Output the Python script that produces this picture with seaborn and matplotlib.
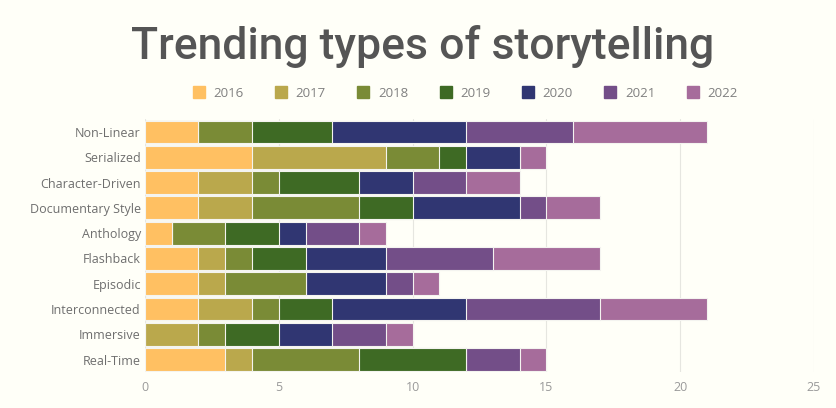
import matplotlib
matplotlib.use("Agg")
import matplotlib.pyplot as plt
import seaborn as sns
import numpy as np
import pandas as pd
from matplotlib.lines import Line2D

categories = ["Non-Linear", "Serialized", "Character-Driven", "Documentary Style",
              "Anthology", "Flashback", "Episodic", "Interconnected", "Immersive", "Real-Time"]
years = ["2016", "2017", "2018", "2019", "2020", "2021", "2022"]
v2016 = [2, 4, 2, 2, 1, 2, 2, 2, 0, 3]
v2017 = [0, 5, 2, 2, 0, 1, 1, 2, 2, 1]
v2018 = [2, 2, 1, 4, 2, 1, 3, 1, 1, 4]
v2019 = [3, 1, 3, 2, 2, 2, 0, 2, 2, 4]
v2020 = [5, 2, 2, 4, 1, 3, 3, 5, 2, 0]
v2021 = [4, 0, 2, 1, 2, 4, 1, 5, 2, 2]
v2022 = [5, 1, 2, 2, 1, 4, 1, 4, 1, 1]
colors = ["#FFC062", "#BAA84C", "#7A8B36", "#3E6A24", "#303672", "#734E88", "#A66C9B"]
xticks = [0, 5, 10, 15, 20, 25]

series = [v2016, v2017, v2018, v2019, v2020, v2021, v2022]
cum = np.cumsum(np.array(series), axis=0)

bg = "#FFFFF8"
sns.set_theme(style="white")
plt.rcParams["font.family"] = ["Open Sans", "DejaVu Sans"]

fig = plt.figure(figsize=(8.36, 4.08), dpi=100, facecolor=bg)
ax = fig.add_axes([0.1734, 0.0875, 0.8003, 0.620])
ax.set_facecolor(bg)

for i in range(len(years) - 1, -1, -1):
    df = pd.DataFrame({"category": categories, "value": cum[i]})
    sns.barplot(data=df, x="value", y="category", orient="h", color=colors[i],
                saturation=1, width=0.9, edgecolor="#F4F4F0", linewidth=0.8, ax=ax, zorder=3)

ax.set_xlim(0, 25)
ax.set_ylim(9.5, -0.5)
ax.set_xticks(xticks)
ax.set_xticklabels([str(t) for t in xticks])
ax.xaxis.grid(True, color="#E6E6E0", linewidth=0.8, zorder=0)
ax.set_axisbelow(True)
ax.set_xlabel("")
ax.set_ylabel("")
for s in ax.spines.values():
    s.set_visible(False)
ax.tick_params(axis="x", colors="#9A9A9A", labelsize=9, length=0, pad=6)
ax.tick_params(axis="y", colors="#6E6E6E", labelsize=9, length=0, pad=3)
for lab in ax.get_xticklabels():
    lab.set_color("#9A9A9A")
for lab in ax.get_yticklabels():
    lab.set_color("#6E6E6E")

fig.text(0.505, 0.885, "Trending types of storytelling", ha="center", va="center",
         fontsize=32, fontweight="medium", color="#555555", family=["Roboto", "DejaVu Sans"])

handles = [Line2D([0], [0], marker="s", linestyle="", markersize=8,
                  markerfacecolor=c, markeredgecolor=c) for c in colors]
leg = fig.legend(handles, years, loc="center", bbox_to_anchor=(0.556, 0.772), ncol=7,
                 frameon=False, fontsize=9.5, handletextpad=0.6, columnspacing=2.35,
                 handlelength=1.0)
for t in leg.get_texts():
    t.set_color("#808080")

fig.savefig("out.png", dpi=100, facecolor=bg)
